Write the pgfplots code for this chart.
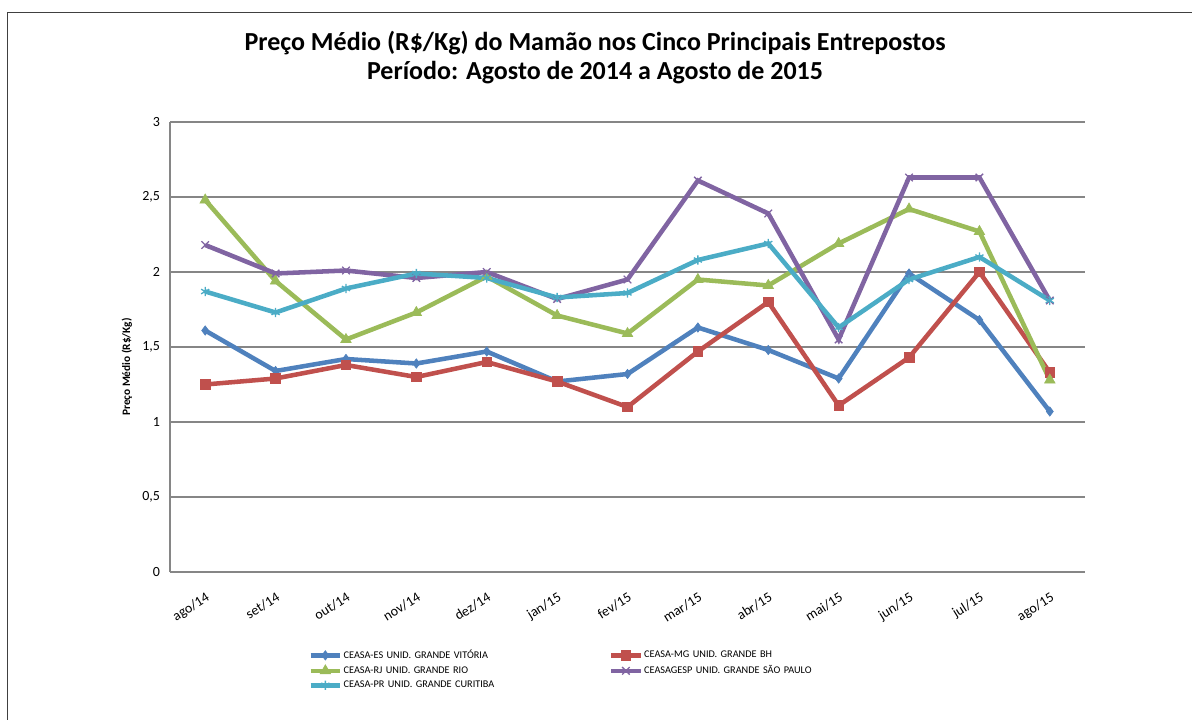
\documentclass[border=0pt]{standalone}
\usepackage{fontspec}
\setmainfont{Carlito}
\usepackage{pgfplots}
\pgfplotsset{compat=1.18}
\definecolor{cES}{HTML}{4F81BD}
\definecolor{cMG}{HTML}{C0504D}
\definecolor{cRJ}{HTML}{9BBB59}
\definecolor{cSP}{HTML}{8064A2}
\definecolor{cPR}{HTML}{4BACC6}
\definecolor{gridc}{HTML}{868686}
\begin{document}
\begin{tikzpicture}
\useasboundingbox (0pt,0pt) rectangle (894pt,-540pt);
\draw[color=black!75, line width=0.75pt] (5.25pt,-541pt) -- (5.25pt,-9.75pt) -- (895pt,-9.75pt);
\node[align=center, font=\fontsize{19.5}{21.75}\selectfont\bfseries] at (446.25pt,-43pt)
  {Preço Médio (R\$/Kg) do Mamão nos Cinco Principais Entrepostos\\Período: Agosto de 2014 a Agosto de 2015};
\node[rotate=90, font=\fontsize{8.5}{10}\selectfont\bfseries] at (95.25pt,-275.25pt) {Preço Médio (R\$/Kg)};
\begin{axis}[
  at={(127.5pt,-429pt)}, anchor=south west,
  scale only axis, width=686.25pt, height=337.5pt,
  xmin=-0.5, xmax=12.5, ymin=0, ymax=3,
  xtick=data,
  xticklabels={ago/14,set/14,out/14,nov/14,dez/14,jan/15,fev/15,mar/15,abr/15,mai/15,jun/15,jul/15,ago/15},
  ytick={0,0.5,1,1.5,2,2.5,3},
  /pgf/number format/use comma,
  /pgf/number format/assume math mode=true,
  yticklabel style={font=\fontsize{10.5}{12}\selectfont, xshift=-4pt},
  xticklabel style={font=\fontsize{10.5}{12}\selectfont, xshift=1pt, yshift=-10pt, rotate=32, anchor=north east},
  major tick length=0pt,
  axis x line*=bottom, axis y line*=left,
  axis line style={gridc, line width=1.2pt},
  ymajorgrids, grid style={gridc, line width=1.2pt},
  every axis plot/.append style={line width=3.4pt},
  legend columns=2,
  legend cell align=left,
  legend style={draw=none, fill=none, at={(0.151,-0.17)}, anchor=north west,
    font=\fontsize{7.7}{9}\selectfont, inner sep=0pt, row sep=1.8pt,
    nodes={text width=198pt, inner sep=1pt}},
  legend image code/.code={\draw[mark repeat=2,mark phase=2, line width=3.4pt] plot coordinates {(0pt,0pt)(11pt,0pt)(22pt,0pt)};},
]
\addplot[color=cES, mark=diamond*, mark size=3.5pt, mark options={line width=0.5pt}] coordinates {
(0,1.61)(1,1.34)(2,1.42)(3,1.39)(4,1.47)(5,1.27)(6,1.32)(7,1.63)(8,1.48)(9,1.29)(10,1.99)(11,1.68)(12,1.07)};
\addlegendentry{CEASA-ES UNID. GRANDE VITÓRIA}
\addplot[color=cMG, mark=square*, mark size=3.6pt, mark options={line width=0.5pt}] coordinates {
(0,1.25)(1,1.29)(2,1.38)(3,1.30)(4,1.40)(5,1.27)(6,1.10)(7,1.47)(8,1.80)(9,1.11)(10,1.43)(11,2.00)(12,1.33)};
\addlegendentry{CEASA-MG UNID. GRANDE BH}
\addplot[color=cRJ, mark=triangle*, mark size=4.5pt, mark options={line width=0.5pt}] coordinates {
(0,2.48)(1,1.94)(2,1.55)(3,1.73)(4,1.97)(5,1.71)(6,1.59)(7,1.95)(8,1.91)(9,2.19)(10,2.42)(11,2.27)(12,1.28)};
\addlegendentry{CEASA-RJ UNID. GRANDE RIO}
\addplot[color=cSP, mark=x, mark size=4pt, mark options={line width=1pt}] coordinates {
(0,2.18)(1,1.99)(2,2.01)(3,1.96)(4,2.00)(5,1.82)(6,1.95)(7,2.61)(8,2.39)(9,1.55)(10,2.63)(11,2.63)(12,1.81)};
\addlegendentry{CEASAGESP UNID. GRANDE SÃO PAULO}
\addplot[color=cPR, mark=asterisk, mark size=3.5pt, mark options={line width=1pt}] coordinates {
(0,1.87)(1,1.73)(2,1.89)(3,1.99)(4,1.96)(5,1.83)(6,1.86)(7,2.08)(8,2.19)(9,1.63)(10,1.95)(11,2.10)(12,1.81)};
\addlegendentry{CEASA-PR UNID. GRANDE CURITIBA}
\end{axis}
\end{tikzpicture}
\end{document}
